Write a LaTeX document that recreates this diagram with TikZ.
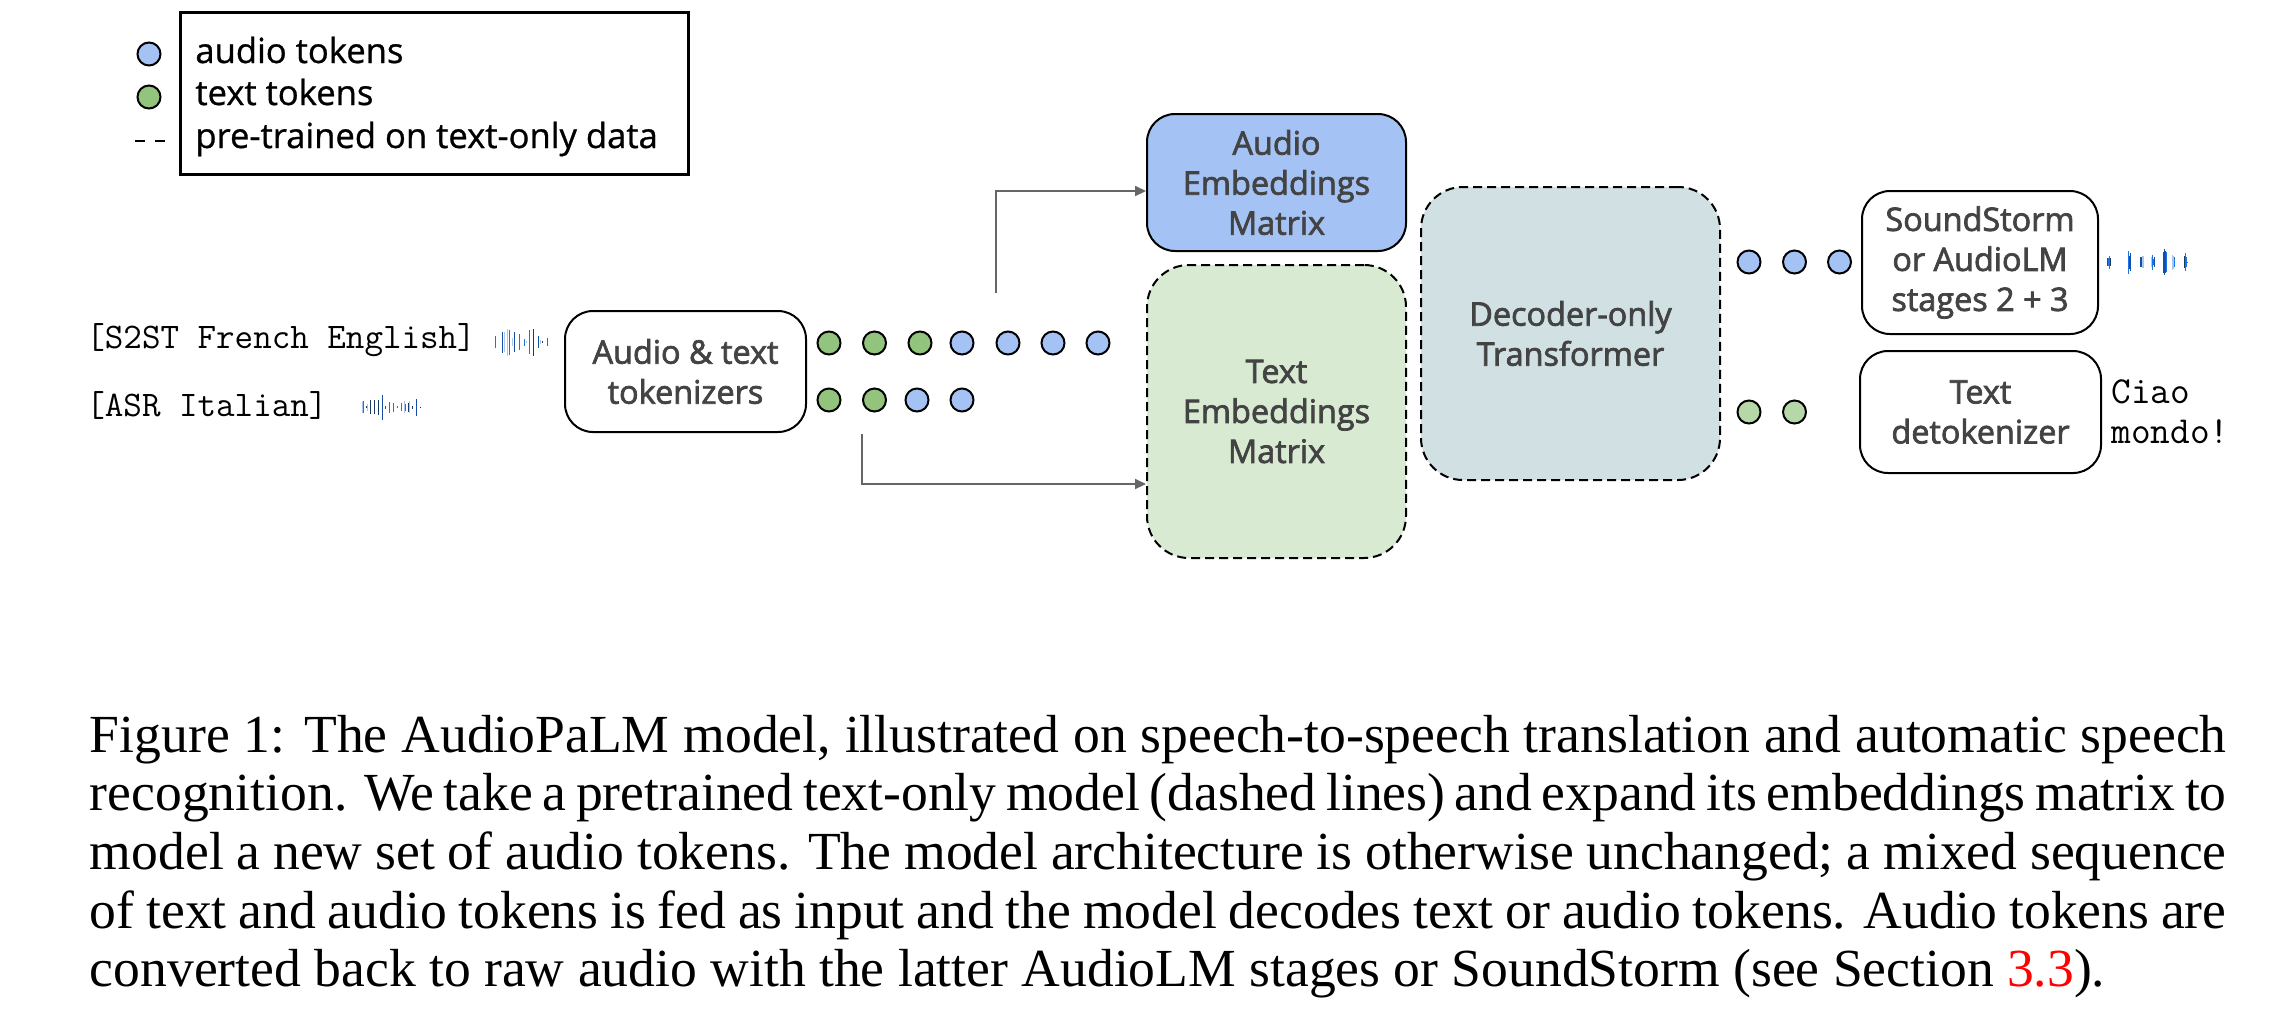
\documentclass[tikz,border=0pt]{standalone}
\usepackage{fontspec}
\setmainfont{Liberation Serif}
\newfontfamily\diagfont[RawFeature={embolden=2.2}]{Open Sans}
\newfontfamily\legfont[RawFeature={embolden=0.8}]{Open Sans}
\usetikzlibrary{arrows.meta}
\definecolor{audioblue}{HTML}{A4C2F4}
\definecolor{textgreen}{HTML}{93C47D}
\definecolor{outgreen}{HTML}{B6D7A8}
\definecolor{embgreen}{HTML}{D9EAD3}
\definecolor{decfill}{HTML}{D0E0E3}
\definecolor{labelgrey}{HTML}{434343}
\definecolor{wL}{HTML}{A9C6EE}
\definecolor{wB}{HTML}{1A73E8}
\definecolor{wD}{HTML}{174EA6}
\definecolor{wN}{HTML}{1C3A63}
\tikzset{
  x=0.5pt,y=-0.5pt,
  tok/.style={circle,draw=black,line width=1pt,minimum size=11.5pt,inner sep=0pt},
  dashline/.style={dash pattern=on 4.5pt off 2.5pt},
  boxlabel/.style={align=center,text=labelgrey,inner sep=0pt,font=\diagfont\fontsize{16.2pt}{20pt}\selectfont},
  rbox/.style={boxlabel,draw=black,line width=1pt,rounded corners=14pt},
  legendtext/.style={anchor=base west,inner sep=0pt,font=\legfont\fontsize{17.3pt}{20pt}\selectfont},
  monotext/.style={anchor=base west,inner sep=0pt,text=black},
  conn/.style={draw=black!60,line width=1pt,-{Triangle[length=5.5pt,width=5pt]}},
  capline/.style={anchor=base west,inner sep=0pt,font=\fontsize{26.8pt}{29pt}\selectfont},
  wave/.style={line width=0.5pt},
}
\newcommand{\capw}{1068.25pt}
\begin{document}
\begin{tikzpicture}
\useasboundingbox (0,0) rectangle (2276,1014);
% legend
\node[draw=black,line width=1.5pt,minimum width=254pt,minimum height=81pt,inner sep=0pt] (legend) at (434,93) {};
\node[tok,fill=audioblue] (la) at (149,54) {};
\node[tok,fill=textgreen] (lt) at (149,97) {};
\node[legendtext] (l1) at (195,63) {audio tokens};
\node[legendtext] (l2) at (195,105) {text tokens};
\node[legendtext] (l3) at (195,148) {pre-trained on text-only data};
\draw[line width=1.2pt,dash pattern=on 5pt off 5pt] (135,141) -- (165,141);
% inputs
\node[monotext,font=\ttfamily\fontsize{18pt}{18pt}\selectfont] (in1) at (86,348) {[S2ST French English]};
\node[monotext,font=\ttfamily\fontsize{18pt}{18pt}\selectfont] (in2) at (86,416) {[ASR Italian]};
% tokenizer
\node[rbox,minimum width=120.5pt,minimum height=60.5pt] (tokz) at (685.5,371.5) {Audio \& text\\tokenizers};
% tokens
\foreach \n/\x/\c in {a/829/textgreen,b/874.5/textgreen,c/920/textgreen,d/962/audioblue,e/1008/audioblue,f/1053/audioblue,g/1098/audioblue}
  \node[tok,fill=\c] (r1\n) at (\x,343) {};
\foreach \n/\x/\c in {a/829/textgreen,b/874.5/textgreen,c/917/audioblue,d/962/audioblue}
  \node[tok,fill=\c] (r2\n) at (\x,400) {};
% matrices
\node[rbox,fill=audioblue,minimum width=129.5pt,minimum height=68.5pt] (audio) at (1276.5,182.5) {Audio\\Embeddings\\Matrix};
\node[rbox,fill=embgreen,dashline,rounded corners=21pt,minimum width=129.5pt,minimum height=146.5pt] (text) at (1276.5,411.5) {Text\\Embeddings\\Matrix};
\node[rbox,fill=decfill,dashline,rounded corners=21pt,minimum width=149.5pt,minimum height=146.5pt] (dec) at (1570.5,333.5) {Decoder-only\\Transformer};
% connectors
\coordinate (c1) at (996,293);
\coordinate (c2) at (862,434);
\coordinate (t1) at (1146,191);
\coordinate (t2) at (1146,484);
\draw[conn] (c1) |- (t1);
\draw[conn] (c2) |- (t2);
% outputs
\foreach \n/\x in {a/1749,b/1794.5,c/1839.5}
  \node[tok,fill=audioblue] (oa\n) at (\x,262) {};
\foreach \n/\x in {a/1749,b/1794.5}
  \node[tok,fill=outgreen] (ot\n) at (\x,412) {};
\node[rbox,minimum width=118pt,minimum height=71.5pt] (ss) at (1980,262.5) {SoundStorm\\or AudioLM\\stages 2 + 3};
\node[rbox,minimum width=120.5pt,minimum height=61pt] (det) at (1980.5,412) {Text\\detokenizer};
\node[monotext,font=\ttfamily\fontsize{19.1pt}{18pt}\selectfont] (o1) at (2111,403) {Ciao};
\node[monotext,font=\ttfamily\fontsize{19.1pt}{18pt}\selectfont] (o2) at (2111,443) {mondo!};
% waveforms
\foreach \x/\h/\c in {495.3/6/wB,502.3/10.5/wD,504.3/10/wL,507.7/13.5/wL,509/12.5/wB,512.3/4/wL,514.3/10/wD,519.3/8/wB,524.3/3.5/wB,526.3/1/wL,529.3/12/wB,533.3/13.5/wN,538.3/6/wD,540.3/2/wL,542.3/1/wN,547.3/4/wB}
  \draw[wave,\c] (\x,342.3-\h) -- (\x,342.3+\h);
\foreach \x/\h/\c in {362.3/6/wL,363.3/6/wB,366.3/1/wN,367.3/3.5/wL,370.3/7/wN,374.3/7/wN,378.3/7.5/wN,382.3/12.5/wD,385.3/1.5/wD,389.3/5.5/wB,393.3/4.5/wB,397.3/1/wB,401.3/4/wB,404.3/6/wL,405.3/3.5/wB,408.3/4.5/wN,409.3/6/wL,412.3/1.5/wN,416.3/8.5/wD,420.3/0.5/wN}
  \draw[wave,\c] (\x,407.3-\h) -- (\x,407.3+\h);
\foreach \x/\h/\c in {2107.3/4/wD,2108.3/4/wB,2109.3/6.5/wB,2110.3/4/wN,2128.3/11.5/wB,2129.3/6.5/wD,2130.3/9/wD,2140.3/5/wD,2141.3/5/wD,2142.3/6/wL,2143.3/6/wL,2151.3/5/wL,2152.3/7.5/wB,2153.3/3/wB,2154.3/5/wD,2163.3/10.5/wD,2164.3/13/wD,2165.3/11/wD,2166.3/10/wB,2172.3/7.5/wL,2173.3/6.5/wL,2174.3/5/wB,2184.3/6/wN,2185.3/9/wB,2186.3/5/wB,2187.3/0.5/wB}
  \draw[wave,\c] (\x,262.3-\h) -- (\x,262.3+\h);
% caption
\node[capline] (cap1) at (89.5,752) {\hbox to \capw{Figure 1: The AudioPaLM model, illustrated on speech-to-speech translation and automatic speech}};
\node[capline] (cap2) at (89.5,810) {\hbox to \capw{recognition. We take a pretrained text-only model (dashed lines) and expand its embeddings matrix to}};
\node[capline] (cap3) at (89.5,869) {\hbox to \capw{model a new set of audio tokens. The model architecture is otherwise unchanged; a mixed sequence}};
\node[capline] (cap4) at (89.5,928) {\hbox to \capw{of text and audio tokens is fed as input and the model decodes text or audio tokens. Audio tokens are}};
\node[capline] (cap5) at (89.5,986) {converted back to raw audio with the latter AudioLM stages or SoundStorm (see Section \textcolor{red}{3.3}).};
\end{tikzpicture}
\end{document}
